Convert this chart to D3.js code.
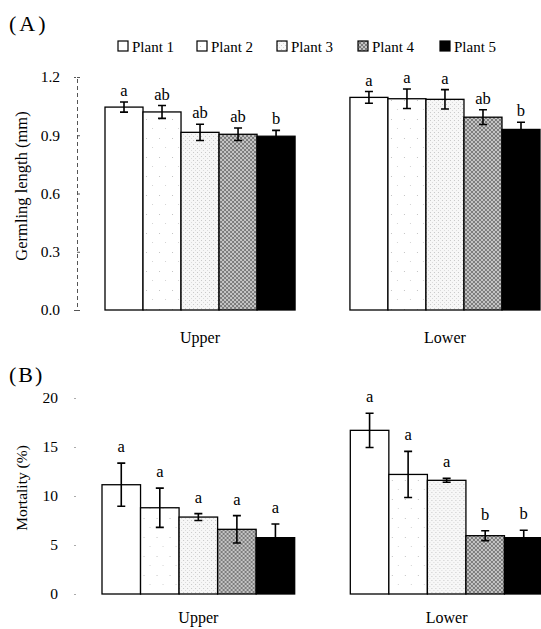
<!DOCTYPE html>
<html lang="en">
<head>
<meta charset="UTF-8">
<title>Germling length and mortality</title>
<script src="https://cdn.jsdelivr.net/npm/d3@7"></script>
<style>
  body { margin: 0; background: #fff; }
  svg text { font-family: "Liberation Serif", "DejaVu Serif", serif; fill: #000; }
</style>
</head>
<body>
<div id="chart"></div>
<script>
// data
const plants = ["Plant 1", "Plant 2", "Plant 3", "Plant 4", "Plant 5"];
const positions = ["Upper", "Lower"];

const lengthUpper = [1.045, 1.02, 0.915, 0.905, 0.895];
const lengthUpperErr = [0.026, 0.033, 0.042, 0.032, 0.03];
const lengthUpperLetters = ["a", "ab", "ab", "ab", "b"];
const lengthLower = [1.095, 1.088, 1.085, 0.993, 0.93];
const lengthLowerErr = [0.03, 0.05, 0.05, 0.038, 0.037];
const lengthLowerLetters = ["a", "a", "a", "ab", "b"];

const mortUpper = [11.15, 8.8, 7.85, 6.6, 5.75];
const mortUpperErr = [2.2, 2.0, 0.35, 1.4, 1.4];
const mortUpperLetters = ["a", "a", "a", "a", "a"];
const mortLower = [16.7, 12.2, 11.6, 5.95, 5.75];
const mortLowerErr = [1.75, 2.35, 0.2, 0.5, 0.75];
const mortLowerLetters = ["a", "a", "a", "b", "b"];

const lengthTicks = [0, 0.3, 0.6, 0.9, 1.2];
const mortTicks = [0, 5, 10, 15, 20];

const W = 541, H = 629;
const svg = d3.select("#chart").append("svg").attr("width", W).attr("height", H);

// fill patterns
const defs = svg.append("defs");
const p2 = defs.append("pattern").attr("id", "pat2").attr("patternUnits", "userSpaceOnUse")
  .attr("width", 13).attr("height", 19);
p2.append("rect").attr("width", 13).attr("height", 19).attr("fill", "#fff");
p2.append("rect").attr("x", 3).attr("y", 5).attr("width", 1).attr("height", 1).attr("fill", "#c4c4c4");
p2.append("rect").attr("x", 9).attr("y", 14).attr("width", 1).attr("height", 1).attr("fill", "#d4d4d4");

const p3 = defs.append("pattern").attr("id", "pat3").attr("patternUnits", "userSpaceOnUse")
  .attr("width", 4).attr("height", 4);
p3.append("rect").attr("width", 4).attr("height", 4).attr("fill", "#f7f7f7");
p3.append("rect").attr("x", 0).attr("y", 0).attr("width", 1).attr("height", 1).attr("fill", "#c8c8c8");
p3.append("rect").attr("x", 2).attr("y", 2).attr("width", 1).attr("height", 1).attr("fill", "#dadada");

const p4 = defs.append("pattern").attr("id", "pat4").attr("patternUnits", "userSpaceOnUse")
  .attr("width", 4).attr("height", 4);
p4.append("rect").attr("width", 4).attr("height", 4).attr("fill", "#c4c4c4");
p4.append("path").attr("d", "M0,0L4,4M4,0L0,4").attr("stroke", "#6a6a6a").attr("stroke-width", 0.8);

const fills = ["#fff", "url(#pat2)", "url(#pat3)", "url(#pat4)", "#000"];

// panel labels
svg.append("text").attr("x", 9).attr("y", 31).attr("font-size", 22).attr("letter-spacing", 3).text("(A)");
svg.append("text").attr("x", 9).attr("y", 382).attr("font-size", 22).attr("letter-spacing", 2).text("(B)");

// legend
const legX = [118, 197, 277, 358, 440];
const leg = svg.append("g").selectAll("g").data(plants).join("g")
  .attr("transform", (d, i) => `translate(${legX[i]},41)`);
leg.append("rect").attr("width", 10).attr("height", 10)
  .attr("fill", (d, i) => fills[i]).attr("stroke", "#000").attr("stroke-width", 1.2);
leg.append("text").attr("x", 14).attr("y", 10.5).attr("font-size", 15).text(d => d);

function panel(opts) {
  const g = svg.append("g");
  const y = d3.scaleLinear().domain(opts.domain).range([opts.bottom, opts.top]);
  const x0 = d3.scaleBand().domain(positions).range(opts.xRange).paddingInner(0.224).paddingOuter(0);
  const x1 = d3.scaleBand().domain(plants).range([0, x0.bandwidth()]);

  const axis = g.append("g").attr("transform", `translate(${opts.axisX},0)`)
    .call(d3.axisLeft(y).tickValues(opts.ticks).tickFormat(opts.fmt).tickSize(3).tickPadding(opts.pad));
  axis.selectAll("text").attr("font-size", 15.5).attr("font-family", "Liberation Serif, serif");
  if (opts.dashed) {
    axis.select(".domain").attr("stroke", "#555").attr("stroke-dasharray", "4,3");
    axis.selectAll(".tick line").attr("stroke", "#555").attr("x2", 3);
  } else {
    axis.select(".domain").remove();
    axis.selectAll(".tick line").attr("stroke", "#aaa").attr("x1", -1).attr("x2", 1);
  }

  g.append("text")
    .attr("transform", `translate(${opts.labelX},${opts.labelY}) rotate(-90)`)
    .attr("text-anchor", "middle").attr("font-size", opts.labelSize).text(opts.label);

  const rows = [];
  positions.forEach((p, gi) => {
    opts.values[gi].forEach((v, i) => {
      rows.push({ pos: p, plant: plants[i], i: i, v: v, e: opts.errs[gi][i], l: opts.letters[gi][i] });
    });
  });

  const bars = g.append("g").selectAll("g").data(rows).join("g")
    .attr("transform", d => `translate(${x0(d.pos) + x1(d.plant)},0)`);
  bars.append("rect")
    .attr("x", 0).attr("width", x1.bandwidth())
    .attr("y", d => y(d.v)).attr("height", d => y(0) - y(d.v))
    .attr("fill", d => fills[d.i]).attr("stroke", "#000").attr("stroke-width", 1.3);

  const cx = x1.bandwidth() / 2;
  bars.append("path")
    .attr("d", d => {
      const t = y(d.v + d.e), b = y(d.v - d.e);
      return `M${cx},${t}V${b}M${cx - 4},${t}H${cx + 4}M${cx - 4},${b}H${cx + 4}`;
    })
    .attr("stroke", "#000").attr("stroke-width", 1.6).attr("fill", "none");

  bars.append("text")
    .attr("x", cx).attr("y", d => y(d.v + d.e) - opts.letterGap)
    .attr("text-anchor", "middle").attr("font-size", 16.5).text(d => d.l);

  g.append("g").selectAll("text").data(positions).join("text")
    .attr("x", d => x0(d) + x0.bandwidth() / 2).attr("y", opts.catY)
    .attr("text-anchor", "middle").attr("font-size", 16).text(d => d);
}

panel({
  domain: [0, 1.2], top: 77, bottom: 310, xRange: [105, 540], axisX: 77,
  ticks: lengthTicks, fmt: d3.format(".1f"), pad: 14, dashed: true,
  label: "Germling length (mm)", labelX: 27, labelY: 186, labelSize: 16.5,
  values: [lengthUpper, lengthLower], errs: [lengthUpperErr, lengthLowerErr],
  letters: [lengthUpperLetters, lengthLowerLetters], letterGap: 6, catY: 343
});

panel({
  domain: [0, 20], top: 398, bottom: 594, xRange: [102, 543], axisX: 75,
  ticks: mortTicks, fmt: d3.format("d"), pad: 14, dashed: false,
  label: "Mortality (%)", labelX: 27, labelY: 488, labelSize: 15.5,
  values: [mortUpper, mortLower], errs: [mortUpperErr, mortLowerErr],
  letters: [mortUpperLetters, mortLowerLetters], letterGap: 11, catY: 623
});
</script>
</body>
</html>
